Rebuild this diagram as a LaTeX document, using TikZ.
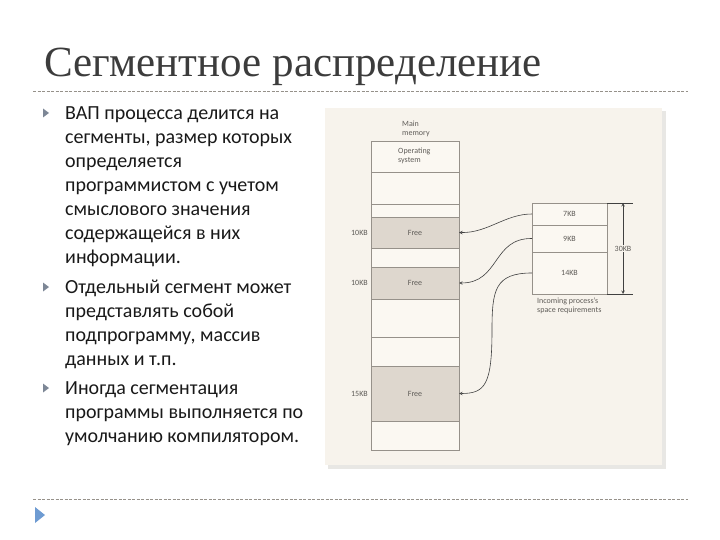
\documentclass[tikz,border=0pt]{standalone}
\usepackage{fontspec}
\setmainfont{Carlito}
\newfontfamily\titlefont{Liberation Serif}
\usetikzlibrary{arrows, positioning}
\usepackage{xcolor}
\definecolor{panel}{RGB}{247,243,236}
\definecolor{panelshade}{RGB}{232,231,228}
\definecolor{cell}{RGB}{251,248,242}
\definecolor{hole}{RGB}{222,215,206}
\definecolor{rule}{RGB}{150,145,138}
\definecolor{figtext}{RGB}{95,92,88}
\definecolor{bulletgray}{RGB}{125,135,150}
\definecolor{bulletblue}{RGB}{110,155,210}
\definecolor{titlegray}{RGB}{60,60,60}
\tikzstyle{memblock} = [rectangle, draw=rule, fill=cell, line width=0.6pt, inner sep=0pt, outer sep=0pt, minimum width=88pt]
\tikzstyle{freeblock} = [memblock, fill=hole]
\tikzstyle{reqblock} = [rectangle, draw=rule, fill=cell, line width=0.6pt, inner sep=0pt, outer sep=0pt, minimum width=75pt, text=figtext, font=\fontsize{8}{9}\selectfont]
\tikzstyle{figlabel} = [text=figtext, font=\fontsize{8}{9}\selectfont, inner sep=0pt, align=left]
\tikzstyle{bullettext} = [anchor=base west, inner sep=0pt, align=left, text=black!90, font=\fontsize{20}{24}\selectfont]
\tikzstyle{arrow} = [line width=0.6pt, draw=black!75, ->, >=stealth]

\begin{document}
\begin{tikzpicture}[x=1pt, y=-1pt]
\useasboundingbox (0,0) rectangle (720,540);

% Title and rules
\node (title) [anchor=base west, inner sep=0pt, text=titlegray, font=\titlefont\fontsize{43}{46}\selectfont] at (44,77) {Сегментное распределение};
\draw [rule, line width=0.5pt, dash pattern=on 3pt off 1.5pt] (33,91) -- (688,91);
\draw [rule, line width=0.5pt, dash pattern=on 3pt off 1.5pt] (33,499) -- (688,499);
\fill [bulletblue] (35,507) -- (45,515) -- (35,523) -- cycle;

% Bullets (anchored at the baseline of their last line)
\foreach \y in {113,287,388}
  \fill [bulletgray] (43,\y-4.5) -- (49,\y) -- (43,\y+4.5) -- cycle;
\node (first) [bullettext] at (65,263) {ВАП процесса делится на\\сегменты, размер которых\\определяется\\программистом с учетом\\смыслового значения\\содержащейся в них\\информации.};
\node (second) [bullettext] at (65,365) {Отдельный сегмент может\\представлять собой\\подпрограмму, массив\\данных и т.п.};
\node (third) [bullettext] at (65,442) {Иногда сегментация\\программы выполняется по\\умолчанию компилятором.};

% Figure panel
\fill [panelshade] (328,111) rectangle (666,469);
\fill [panel] (325,108) rectangle (662,465);

% Main memory column
\node (os) [memblock, minimum height=31pt] at (415,156.5) {};
\node (b1) [memblock, minimum height=32pt] at (415,188) {};
\node (b2) [memblock, minimum height=13pt] at (415,210.5) {};
\node (free1) [freeblock, minimum height=31pt] at (415,232.5) {};
\node (b3) [memblock, minimum height=19pt] at (415,257.5) {};
\node (free2) [freeblock, minimum height=32pt] at (415,283) {};
\node (b4) [memblock, minimum height=38pt] at (415,318) {};
\node (b5) [memblock, minimum height=29pt] at (415,351.5) {};
\node (free3) [freeblock, minimum height=55pt] at (415,393.5) {};
\node (b6) [memblock, minimum height=29pt] at (415,435.5) {};

\node (mainlbl) [figlabel, anchor=south west] at (402,137) {Main\\memory};
\node (oslbl) [figlabel, anchor=north west] at (398,148) {Operating\\system};
\foreach \blk/\sz in {free1/10KB, free2/10KB, free3/15KB} {
  \node [figlabel] at (\blk.center) {Free};
  \node [figlabel, anchor=east] at ([xshift=-3pt]\blk.west) {\sz};
}

% Incoming process
\node (r7) [reqblock, minimum height=22pt] at (569.5,214) {7KB};
\node (r9) [reqblock, minimum height=27pt] at (569.5,238.5) {9KB};
\node (r14) [reqblock, minimum height=42pt] at (569.5,273) {14KB};
\node (inlbl) [figlabel, anchor=north west] at (537,298) {Incoming process's\\space requirements};

% Total size
\coordinate (dimtop) at (633,203);
\coordinate (dimbot) at (633,294);
\draw [line width=0.6pt, black!75] (r7.north east) -- (dimtop);
\draw [line width=0.6pt, black!75] (r14.south east) -- (dimbot);
\draw [line width=0.6pt, black!75, <->, >=stealth] ([xshift=-10pt]dimtop) -- node[fill=panel, figlabel, inner sep=1pt] {30KB} ([xshift=-10pt]dimbot);

% Placement of the segments
\draw [arrow] (r7.west) .. controls (505,214) and (488,233) .. (free1.east);
\draw [arrow] (r9.west) .. controls (492,238) and (500,283) .. (free2.east);
\draw [arrow] (r14.west) .. controls (495,273) and (492,290) .. (492,330) .. controls (492,385) and (485,393.5) .. (free3.east);

\end{tikzpicture}
\end{document}
